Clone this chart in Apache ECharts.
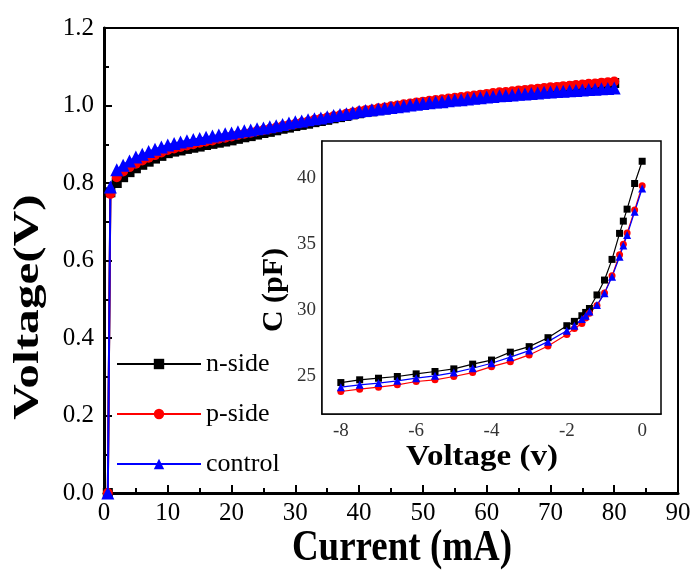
<!DOCTYPE html>
<html>
<head>
<meta charset="utf-8">
<title>I-V and C-V characteristics</title>
<script src="https://cdn.jsdelivr.net/npm/echarts@6/dist/echarts.min.js"></script>
<style>
  html, body { margin: 0; padding: 0; background: #fff; }
  #chart { width: 696px; height: 574px; }
</style>
</head>
<body>
<div id="chart"></div>
<script>
// ---- I-V data (current in mA, forward voltage in V) ----
const currentMA = [0.6, 1, 2, 3, 4, 5, 6, 7, 8, 9, 10, 11, 12, 13, 14, 15, 16, 17, 18, 19, 20,
  21, 22, 23, 24, 25, 26, 27, 28, 29, 30, 31, 32, 33, 34, 35, 36, 37, 38, 39, 40,
  41, 42, 43, 44, 45, 46, 47, 48, 49, 50, 51, 52, 53, 54, 55, 56, 57, 58, 59, 60,
  61, 62, 63, 64, 65, 66, 67, 68, 69, 70, 71, 72, 73, 74, 75, 76, 77, 78, 79, 80];

const nSideV = [0.000, 0.776, 0.800, 0.815, 0.828, 0.838, 0.847, 0.855, 0.863, 0.870, 0.877,
  0.881, 0.884, 0.888, 0.891, 0.894, 0.898, 0.901, 0.904, 0.907, 0.910,
  0.914, 0.918, 0.921, 0.925, 0.929, 0.932, 0.936, 0.940, 0.943, 0.947,
  0.950, 0.953, 0.957, 0.960, 0.963, 0.967, 0.970, 0.973, 0.977, 0.980,
  0.983, 0.985, 0.988, 0.990, 0.993, 0.995, 0.998, 1.000, 1.003, 1.005,
  1.007, 1.009, 1.011, 1.013, 1.015, 1.017, 1.019, 1.021, 1.023, 1.025,
  1.027, 1.029, 1.030, 1.032, 1.034, 1.036, 1.038, 1.039, 1.041, 1.043,
  1.044, 1.046, 1.047, 1.049, 1.050, 1.052, 1.053, 1.055, 1.056, 1.058];

const pSideV = [0.000, 0.772, 0.815, 0.830, 0.841, 0.850, 0.858, 0.865, 0.872, 0.879, 0.885,
  0.889, 0.893, 0.897, 0.900, 0.904, 0.907, 0.910, 0.914, 0.917, 0.920,
  0.924, 0.927, 0.930, 0.934, 0.937, 0.940, 0.943, 0.947, 0.950, 0.953,
  0.956, 0.959, 0.963, 0.966, 0.969, 0.972, 0.975, 0.979, 0.982, 0.985,
  0.988, 0.990, 0.993, 0.995, 0.998, 1.000, 1.003, 1.005, 1.008, 1.010,
  1.012, 1.014, 1.016, 1.018, 1.020, 1.022, 1.024, 1.026, 1.028, 1.030,
  1.032, 1.034, 1.035, 1.037, 1.039, 1.040, 1.042, 1.043, 1.045, 1.047,
  1.048, 1.050, 1.051, 1.053, 1.054, 1.056, 1.057, 1.059, 1.060, 1.062];

const controlV = [0.000, 0.790, 0.834, 0.846, 0.857, 0.867, 0.874, 0.881, 0.887, 0.893, 0.898,
  0.902, 0.906, 0.909, 0.912, 0.915, 0.918, 0.921, 0.924, 0.927, 0.929,
  0.932, 0.935, 0.937, 0.940, 0.942, 0.945, 0.948, 0.951, 0.955, 0.958,
  0.960, 0.963, 0.966, 0.968, 0.971, 0.974, 0.977, 0.979, 0.982, 0.985,
  0.987, 0.989, 0.991, 0.993, 0.995, 0.997, 0.999, 1.001, 1.003, 1.005,
  1.007, 1.009, 1.010, 1.012, 1.014, 1.015, 1.017, 1.019, 1.020, 1.022,
  1.023, 1.025, 1.026, 1.027, 1.029, 1.030, 1.031, 1.032, 1.034, 1.035,
  1.036, 1.037, 1.038, 1.039, 1.040, 1.041, 1.042, 1.043, 1.044, 1.045];

// ---- C-V data (bias in V, capacitance in pF) ----
const biasV = [-8, -7.5, -7, -6.5, -6, -5.5, -5, -4.5, -4, -3.5, -3, -2.5, -2,
  -1.8, -1.6, -1.5, -1.4, -1.2, -1, -0.8, -0.6, -0.5, -0.4, -0.2, 0];

const nSideC = [24.49, 24.70, 24.82, 24.95, 25.15, 25.33, 25.53, 25.89, 26.20, 26.80, 27.22, 27.90, 28.81,
  29.14, 29.57, 29.82, 30.12, 31.15, 32.28, 33.85, 35.83, 36.76, 37.67, 39.62, 41.31];

const pSideC = [23.81, 23.99, 24.14, 24.32, 24.57, 24.70, 24.95, 25.25, 25.70, 26.08, 26.59, 27.27, 28.15,
  28.60, 28.98, 29.40, 29.75, 30.35, 31.30, 32.60, 34.20, 35.00, 35.85, 37.60, 39.45];

const controlC = [24.14, 24.32, 24.45, 24.62, 24.82, 25.00, 25.25, 25.58, 25.96, 26.42, 26.92, 27.60, 28.43,
  28.81, 29.32, 29.57, 29.90, 30.38, 31.27, 32.53, 34.05, 34.90, 35.70, 37.47, 39.24];

// ---- axis ticks ----
const insetXTicks = [-8, -6, -4, -2, 0];
const insetXTopTicks = [-8, -7, -6, -5, -4, -3, -2, -1, 0];
const insetYTicks = [25, 30, 35, 40];
const insetYRightTicks = [25, 27.5, 30, 32.5, 35, 37.5, 40];

const SERIF = '"Liberation Serif", "Times New Roman", serif';
const COLORS = { n: '#000000', p: '#ff0000', c: '#0000ff' };

const pairs = (xs, ys) => xs.map((x, i) => [x, ys[i]]);

const chart = echarts.init(document.getElementById('chart'), null, { renderer: 'canvas' });

const mainSeries = (name, ys, color, symbol, size) => ({
  name, type: 'line', xAxisIndex: 0, yAxisIndex: 0,
  data: pairs(currentMA, ys),
  symbol, symbolSize: size, showAllSymbol: true,
  lineStyle: { color, width: 2 },
  itemStyle: { color, borderWidth: 0 },
  emphasis: { disabled: true }, animation: false, z: 3
});

const insetSeries = (name, ys, color, symbol, size) => ({
  name, type: 'line', xAxisIndex: 1, yAxisIndex: 1,
  data: pairs(biasV, ys),
  symbol, symbolSize: size, showAllSymbol: true,
  lineStyle: { color, width: 1.2 },
  itemStyle: { color, borderWidth: 0 },
  emphasis: { disabled: true }, animation: false, z: 6
});

// bold serif axis titles, drawn slightly tall like the plotting program's output
const title = (text, x, y, size, opts) => Object.assign({
  type: 'text', x, y, z: 20,
  style: {
    text, fontFamily: SERIF, fontSize: size, fontWeight: 'bold', fill: '#000',
    textAlign: 'center', textVerticalAlign: 'middle'
  }
}, opts || {});

const option = {
  backgroundColor: '#fff',
  animation: false,
  textStyle: { fontFamily: SERIF },
  grid: [
    { left: 104, top: 28, right: 18, bottom: 81, show: true, borderColor: '#000', borderWidth: 2, z: 1,
      containLabel: false, outerBoundsMode: 'none' },
    { left: 322, top: 141, right: 35, bottom: 160, show: true, borderColor: '#000', borderWidth: 1.5,
      backgroundColor: '#fff', z: 5, containLabel: false, outerBoundsMode: 'none' }
  ],
  legend: {
    data: ['n-side', 'p-side', 'control'],
    orient: 'vertical',
    left: 111, top: 346,
    itemWidth: 84, itemHeight: 13, itemGap: 24,
    textStyle: { fontFamily: SERIF, fontSize: 26, color: '#000' },
    selectedMode: false
  },
  graphic: [
    title('Current (mA)', 402, 548, 37, { scaleY: 1.22 }),
    title('Voltage(V)', 29, 307, 36, { rotation: Math.PI / 2, scaleX: 1.37 }),
    title('Voltage (v)', 482, 457, 30, { scaleX: 1.1 }),
    title('C (pF)', 274, 290, 30, { rotation: Math.PI / 2 })
  ],
  xAxis: [
    {
      gridIndex: 0, type: 'value', min: 0, max: 90, interval: 10,
      axisLine: { show: true, onZero: false, lineStyle: { color: '#000', width: 3 } },
      axisTick: { show: true, inside: true, length: 8, lineStyle: { color: '#000', width: 2 } },
      minorTick: { show: true, splitNumber: 2, length: 5, lineStyle: { color: '#000', width: 2 } },
      axisLabel: { fontFamily: SERIF, fontSize: 25, color: '#000', margin: 8 },
      splitLine: { show: false }
    },
    {
      gridIndex: 1, type: 'value', min: -8.5, max: 0.5,
      axisLine: { show: true, onZero: false, lineStyle: { color: '#000', width: 1.5 } },
      axisTick: { show: true, inside: true, length: 6, customValues: insetXTicks, lineStyle: { color: '#000', width: 1.2 } },
      axisLabel: { fontFamily: SERIF, fontSize: 19, color: '#333', margin: 8, customValues: insetXTicks },
      splitLine: { show: false }
    },
    {
      gridIndex: 1, type: 'value', min: -8.5, max: 0.5, position: 'top',
      axisLine: { show: false },
      axisTick: { show: true, inside: true, length: 5, customValues: insetXTopTicks, lineStyle: { color: '#222', width: 1 } },
      axisLabel: { show: false },
      splitLine: { show: false }
    }
  ],
  yAxis: [
    {
      gridIndex: 0, type: 'value', min: 0, max: 1.2, interval: 0.2,
      axisLine: { show: true, onZero: false, lineStyle: { color: '#000', width: 3 } },
      axisTick: { show: true, inside: true, length: 8, lineStyle: { color: '#000', width: 2 } },
      minorTick: { show: true, splitNumber: 2, length: 5, lineStyle: { color: '#000', width: 2 } },
      axisLabel: { fontFamily: SERIF, fontSize: 25, color: '#000', margin: 10, formatter: v => v.toFixed(1) },
      splitLine: { show: false }
    },
    {
      gridIndex: 1, type: 'value', min: 22.1, max: 42.85,
      axisLine: { show: true, onZero: false, lineStyle: { color: '#000', width: 1.5 } },
      axisTick: { show: true, inside: true, length: 6, customValues: insetYTicks, lineStyle: { color: '#000', width: 1.2 } },
      axisLabel: { fontFamily: SERIF, fontSize: 19, color: '#333', margin: 6, customValues: insetYTicks },
      splitLine: { show: false }
    },
    {
      gridIndex: 1, type: 'value', min: 22.1, max: 42.85, position: 'right',
      axisLine: { show: false },
      axisTick: { show: true, inside: true, length: 5, customValues: insetYRightTicks, lineStyle: { color: '#222', width: 1 } },
      axisLabel: { show: false },
      splitLine: { show: false }
    }
  ],
  series: [
    mainSeries('n-side', nSideV, COLORS.n, 'rect', 10),
    mainSeries('p-side', pSideV, COLORS.p, 'circle', 10),
    mainSeries('control', controlV, COLORS.c, 'triangle', 13),
    insetSeries('n-side', nSideC, COLORS.n, 'rect', 7),
    insetSeries('p-side', pSideC, COLORS.p, 'circle', 7),
    insetSeries('control', controlC, COLORS.c, 'triangle', 8)
  ]
};

chart.setOption(option);
</script>
</body>
</html>
